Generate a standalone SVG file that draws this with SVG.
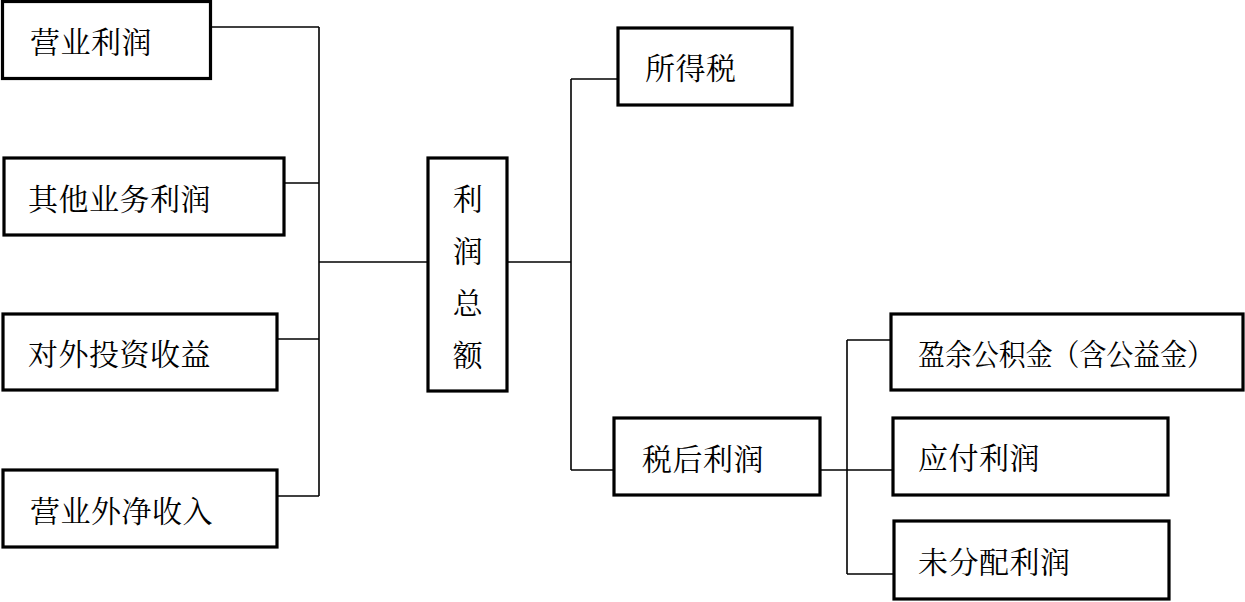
<svg xmlns="http://www.w3.org/2000/svg" width="1245" height="602" viewBox="0 0 1245 602">
<style>
.box{fill:#fff;stroke:#000;stroke-width:3.2}
.ln{fill:none;stroke:#000;stroke-width:1.6}
text{font-family:"Noto Serif CJK SC","Noto Sans CJK SC",serif;font-size:30px;fill:#000;letter-spacing:0.5px}
.v{text-anchor:middle}
</style>
<rect width="1245" height="602" fill="#fff"/>
<g id="connectors">
<polyline class="ln" points="211,27 319,27"/>
<polyline class="ln" points="284,183 319,183"/>
<polyline class="ln" points="277,339 319,339"/>
<polyline class="ln" points="277,496 319,496"/>
<polyline class="ln" points="319,27 319,496"/>
<polyline class="ln" points="319,262 428,262"/>
<polyline class="ln" points="507,262 571,262"/>
<polyline class="ln" points="571,79 571,470"/>
<polyline class="ln" points="571,79 618,79"/>
<polyline class="ln" points="571,470 614,470"/>
<polyline class="ln" points="820,470 893,470"/>
<polyline class="ln" points="847,340 847,574"/>
<polyline class="ln" points="847,340 891,340"/>
<polyline class="ln" points="847,574 894,574"/>
</g>
<g id="n1"><rect class="box" x="2.5" y="1.5" width="208" height="77"/><text x="30" y="53">营业利润</text></g>
<g id="n2"><rect class="box" x="4" y="158" width="280" height="77"/><text x="28" y="210">其他业务利润</text></g>
<g id="n3"><rect class="box" x="3" y="314" width="274" height="76"/><text x="28" y="365">对外投资收益</text></g>
<g id="n4"><rect class="box" x="3" y="470" width="274" height="77"/><text x="30" y="522">营业外净收入</text></g>
<g id="n5"><rect class="box" x="428" y="158" width="79" height="233"/>
<text class="v" x="468" y="210">利</text><text class="v" x="468" y="262">润</text><text class="v" x="468" y="314">总</text><text class="v" x="468" y="366">额</text></g>
<g id="n6"><rect class="box" x="618" y="28" width="174" height="77"/><text x="645" y="79">所得税</text></g>
<g id="n7"><rect class="box" x="614" y="418" width="206" height="77"/><text x="642" y="470">税后利润</text></g>
<g id="n8"><rect class="box" x="891" y="314" width="352" height="76"/><text x="918" y="365" textLength="296" lengthAdjust="spacingAndGlyphs" style="letter-spacing:0">盈余公积金（含公益金）</text></g>
<g id="n9"><rect class="box" x="893" y="418" width="275" height="77"/><text x="918" y="469">应付利润</text></g>
<g id="n10"><rect class="box" x="894" y="521" width="275" height="78"/><text x="918" y="573">未分配利润</text></g>
</svg>
